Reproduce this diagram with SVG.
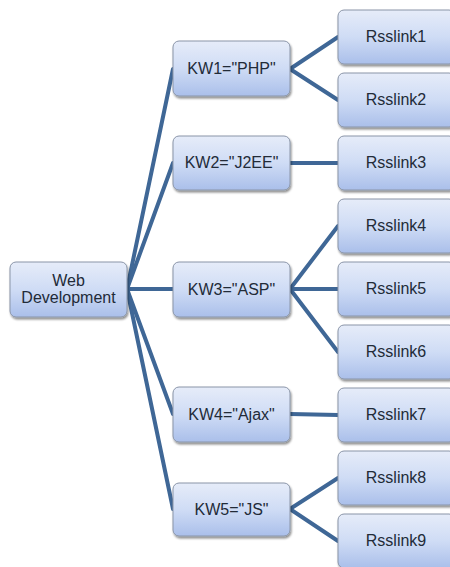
<svg xmlns="http://www.w3.org/2000/svg" width="450" height="567" viewBox="0 0 450 567">
  <defs>
    <linearGradient id="boxFill" x1="0" y1="0" x2="0" y2="1">
      <stop offset="0" stop-color="#e6ecf9"/>
      <stop offset="0.5" stop-color="#cfdcf5"/>
      <stop offset="1" stop-color="#aabfea"/>
    </linearGradient>
    <filter id="shadow" x="-10%" y="-10%" width="130%" height="140%">
      <feGaussianBlur in="SourceAlpha" stdDeviation="1.2"/>
      <feOffset dx="1" dy="2" result="off"/>
      <feComponentTransfer><feFuncA type="linear" slope="0.45"/></feComponentTransfer>
      <feMerge><feMergeNode/><feMergeNode in="SourceGraphic"/></feMerge>
    </filter>
  </defs>
  <style>
    .box { fill: url(#boxFill); stroke: #8a95a8; stroke-width: 1; filter: url(#shadow); }
    .lbl { font-family: "Liberation Sans", Arial, sans-serif; font-size: 16px; fill: #222b38; text-anchor: middle; }
    .link { stroke: #3f6796; stroke-width: 4; fill: none; stroke-linecap: round; }
  </style>
  <rect width="450" height="567" fill="#ffffff"/>

  <!-- connectors -->
  <g id="connectors">
    <line class="link" x1="127" y1="289" x2="173" y2="69"/>
    <line class="link" x1="127" y1="289" x2="173" y2="163"/>
    <line class="link" x1="127" y1="289" x2="173" y2="289"/>
    <line class="link" x1="127" y1="289" x2="173" y2="414"/>
    <line class="link" x1="127" y1="289" x2="173" y2="509"/>
    <line class="link" x1="290" y1="69" x2="338" y2="37"/>
    <line class="link" x1="290" y1="69" x2="338" y2="100"/>
    <line class="link" x1="290" y1="163" x2="338" y2="163"/>
    <line class="link" x1="290" y1="289" x2="338" y2="226"/>
    <line class="link" x1="290" y1="289" x2="338" y2="289"/>
    <line class="link" x1="290" y1="289" x2="338" y2="352"/>
    <line class="link" x1="290" y1="414" x2="338" y2="415"/>
    <line class="link" x1="290" y1="509" x2="338" y2="478"/>
    <line class="link" x1="290" y1="509" x2="338" y2="541"/>
  </g>

  <!-- root -->
  <g id="web-development">
    <rect class="box" x="10" y="262" width="117" height="55" rx="6"/>
    <text class="lbl" x="68.5" y="286">Web</text>
    <text class="lbl" x="68.5" y="303">Development</text>
  </g>

  <!-- keywords -->
  <g id="kw1">
    <rect class="box" x="173" y="41" width="117" height="55" rx="6"/>
    <text class="lbl" x="231.5" y="74">KW1="PHP"</text>
  </g>
  <g id="kw2">
    <rect class="box" x="173" y="136" width="117" height="54" rx="6"/>
    <text class="lbl" x="231.5" y="168">KW2="J2EE"</text>
  </g>
  <g id="kw3">
    <rect class="box" x="173" y="262" width="117" height="55" rx="6"/>
    <text class="lbl" x="231.5" y="295">KW3="ASP"</text>
  </g>
  <g id="kw4">
    <rect class="box" x="173" y="387" width="117" height="55" rx="6"/>
    <text class="lbl" x="231.5" y="420">KW4="Ajax"</text>
  </g>
  <g id="kw5">
    <rect class="box" x="173" y="483" width="117" height="53" rx="6"/>
    <text class="lbl" x="231.5" y="515">KW5="JS"</text>
  </g>

  <!-- feeds -->
  <g id="rsslink1">
    <rect class="box" x="338" y="10" width="117" height="54" rx="6"/>
    <text class="lbl" x="396" y="42">Rsslink1</text>
  </g>
  <g id="rsslink2">
    <rect class="box" x="338" y="73" width="117" height="54" rx="6"/>
    <text class="lbl" x="396" y="105">Rsslink2</text>
  </g>
  <g id="rsslink3">
    <rect class="box" x="338" y="136" width="117" height="54" rx="6"/>
    <text class="lbl" x="396" y="168">Rsslink3</text>
  </g>
  <g id="rsslink4">
    <rect class="box" x="338" y="199" width="117" height="54" rx="6"/>
    <text class="lbl" x="396" y="231">Rsslink4</text>
  </g>
  <g id="rsslink5">
    <rect class="box" x="338" y="262" width="117" height="54" rx="6"/>
    <text class="lbl" x="396" y="294">Rsslink5</text>
  </g>
  <g id="rsslink6">
    <rect class="box" x="338" y="325" width="117" height="54" rx="6"/>
    <text class="lbl" x="396" y="357">Rsslink6</text>
  </g>
  <g id="rsslink7">
    <rect class="box" x="338" y="388" width="117" height="54" rx="6"/>
    <text class="lbl" x="396" y="420">Rsslink7</text>
  </g>
  <g id="rsslink8">
    <rect class="box" x="338" y="451" width="117" height="54" rx="6"/>
    <text class="lbl" x="396" y="483">Rsslink8</text>
  </g>
  <g id="rsslink9">
    <rect class="box" x="338" y="514" width="117" height="54" rx="6"/>
    <text class="lbl" x="396" y="546">Rsslink9</text>
  </g>
</svg>
